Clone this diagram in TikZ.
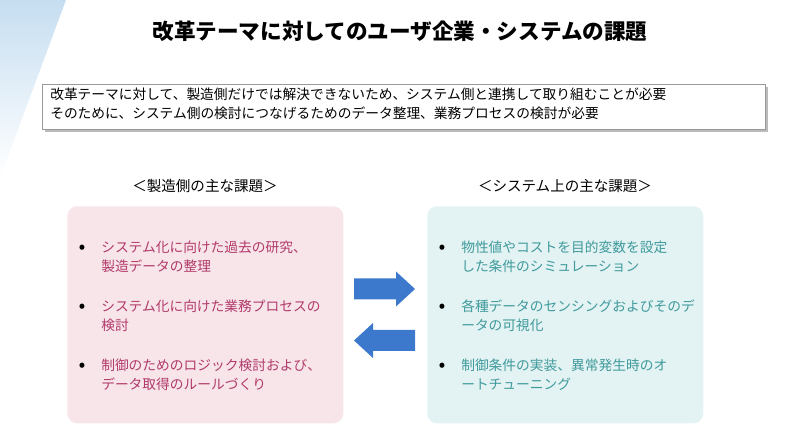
\documentclass[tikz,border=0pt]{standalone}
\usepackage{fontspec}
\setmainfont{Noto Sans CJK JP}
\usepackage{tikz}
\usetikzlibrary{shadows}

\definecolor{mfgtext}{HTML}{B23A6B}
\definecolor{mfgfill}{HTML}{F7E5E9}
\definecolor{systext}{HTML}{3F9A9C}
\definecolor{sysfill}{HTML}{E3F2F2}
\definecolor{arrowblue}{HTML}{3C78CC}
\definecolor{cornerblue}{HTML}{C6DEF1}

\begin{document}
\begin{tikzpicture}[x=0.75pt, y=-0.75pt,
  body/.style={font=\fontsize{10.3pt}{14.25pt}\selectfont, inner sep=0pt},
  item/.style={body, anchor=west, align=left},
  dot/.style={font=\fontsize{12pt}{12pt}\selectfont\bfseries, inner sep=0pt, anchor=center},
  panel/.style={rounded corners=7.5pt, minimum width=207pt, minimum height=162.75pt, anchor=north west, inner sep=0pt},
  head/.style={font=\fontsize{10.9pt}{13pt}\selectfont, inner sep=0pt}]
\useasboundingbox (0,0) rectangle (800,438);
\shade[top color=cornerblue, bottom color=white] (0,0) -- (66,0) -- (0,178) -- cycle;
\node[font=\fontsize{16.2pt}{19pt}\selectfont\bfseries, inner sep=0pt] (title) at (400,31) {改革テーマに対してのユーザ企業・システムの課題};
\node[draw=black!40, fill=white, anchor=north west, minimum width=542.25pt, minimum height=33.75pt, inner sep=0pt,
  drop shadow={shadow xshift=2pt, shadow yshift=-2pt, opacity=0.45, fill=black!60}] (note) at (42,84) {};
\node[item] (notetext) at (50,103.5) {改革テーマに対して、製造側だけでは解決できないため、システム側と連携して取り組むことが必要\\そのために、システム側の検討につなげるためのデータ整理、業務プロセスの検討が必要};

\node[head] (mfghead) at (205,186) {＜製造側の主な課題＞};
\node[head] (syshead) at (565,186) {＜システム上の主な課題＞};

\node[panel, fill=mfgfill] (mfg) at (67,206) {};
\node[panel, fill=sysfill] (sys) at (427,206) {};

\node[dot] (mfgdot1) at (82,248.5) {•};
\node[item, text=mfgtext] (mfg1) at (101,256.5) {システム化に向けた過去の研究、\\製造データの整理};
\node[dot] (mfgdot2) at (82,307.5) {•};
\node[item, text=mfgtext] (mfg2) at (101,315.5) {システム化に向けた業務プロセスの\\検討};
\node[dot] (mfgdot3) at (82,366.5) {•};
\node[item, text=mfgtext] (mfg3) at (101,374.5) {制御のためのロジック検討および、\\データ取得のルールづくり};

\node[dot] (sysdot1) at (442,248.5) {•};
\node[item, text=systext] (sys1) at (461,256.5) {物性値やコストを目的変数を設定\\した条件のシミュレーション};
\node[dot] (sysdot2) at (442,307.5) {•};
\node[item, text=systext] (sys2) at (461,315.5) {各種データのセンシングおよびそのデ\\ータの可視化};
\node[dot] (sysdot3) at (442,366.5) {•};
\node[item, text=systext] (sys3) at (461,374.5) {制御条件の実装、異常発生時のオ\\ートチューニング};

\fill[arrowblue] (354,278.5) -- (396,278.5) -- (396,271.5) -- (415,289) -- (396,306.5) -- (396,299.5) -- (354,299.5) -- cycle;
\fill[arrowblue] (415,330) -- (373,330) -- (373,323) -- (354,340.5) -- (373,358) -- (373,351) -- (415,351) -- cycle;
\end{tikzpicture}
\end{document}
